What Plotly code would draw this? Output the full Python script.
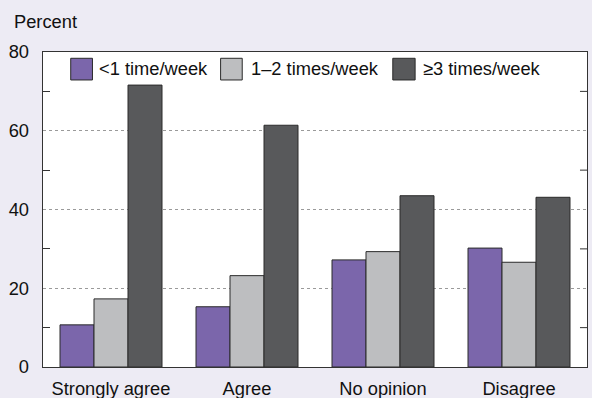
import plotly.graph_objects as go

categories = ["Strongly agree", "Agree", "No opinion", "Disagree"]
series_names = ["<1 time/week", "1\u20132 times/week", "\u22653 times/week"]
less_than_1 = [10.7, 15.3, 27.2, 30.2]
one_to_two = [17.3, 23.2, 29.3, 26.6]
three_plus = [71.6, 61.4, 43.5, 43.1]
y_ticks = [0, 20, 40, 60, 80]
y_minor = [10, 30, 50, 70]

colors = ["#7b66ab", "#bdbec0", "#58595b"]
FONT = "Liberation Sans, Arial, Helvetica, sans-serif"
FS = 18.3

W, H = 592, 398
L, R, T, B = 43.3, 586.7, 52, 367.3

def px_x(p):
    return (p - L) / (R - L)

def px_y(p):
    return (B - p) / (B - T)

fig = go.Figure()
for name, vals, c in zip(series_names, [less_than_1, one_to_two, three_plus], colors):
    fig.add_trace(go.Bar(x=categories, y=vals, name=name,
                         marker=dict(color=c, line=dict(color="#2a2a2a", width=1)),
                         showlegend=False, hoverinfo="skip"))

fig.update_layout(
    template="none",
    width=W, height=H,
    margin=dict(l=L, r=W - R, t=T, b=H - B, pad=0, autoexpand=False),
    paper_bgcolor="#edebf4", plot_bgcolor="#ffffff",
    barmode="group", bargap=0.25, bargroupgap=0,
    font=dict(family=FONT, size=FS, color="#111111"),
)
fig.update_xaxes(automargin=False, showline=True, linecolor="#333333", linewidth=1.3, mirror=True,
                 ticks="", ticklabelstandoff=5, showgrid=False)
fig.update_yaxes(automargin=False, range=[0, 80], tickvals=y_ticks, showline=True, linecolor="#333333",
                 linewidth=1.3, mirror=True, ticks="", ticklabelstandoff=9,
                 showgrid=True, gridcolor="#9a9a9a", griddash="dot", gridwidth=1,
                 zeroline=False,
                 minor=dict(tickvals=y_minor, ticks="inside", ticklen=7,
                            tickcolor="#333333", tickwidth=1, showgrid=False))

# right-side minor ticks (mirror)
for v in y_minor:
    fig.add_shape(type="line", xref="paper", yref="y", x0=1, x1=px_x(R - 7), y0=v, y1=v,
                  line=dict(color="#333333", width=1))

fig.add_annotation(text="Percent", xref="paper", yref="paper", x=px_x(12.0), y=px_y(21),
                   xanchor="left", yanchor="middle", showarrow=False,
                   font=dict(size=FS, family=FONT, color="#111111"))

boxes = [(71, 92.7), (220.7, 242.3), (392.7, 415)]
text_x = [97.5, 249.5, 421]
for (x0, x1), tx, name, c in zip(boxes, text_x, series_names, colors):
    fig.add_shape(type="rect", xref="paper", yref="paper",
                  x0=px_x(x0), x1=px_x(x1), y0=px_y(80), y1=px_y(58.3),
                  fillcolor=c, line=dict(color="#2a2a2a", width=1))
    fig.add_annotation(text=name, xref="paper", yref="paper", x=px_x(tx), y=px_y(68.5),
                       xanchor="left", yanchor="middle", showarrow=False,
                       font=dict(size=FS, family=FONT, color="#111111"))

fig.write_html("out.html", config={"displayModeBar": False, "staticPlot": True},
               post_script="document.body.style.margin='0';document.body.style.overflow='hidden';")
